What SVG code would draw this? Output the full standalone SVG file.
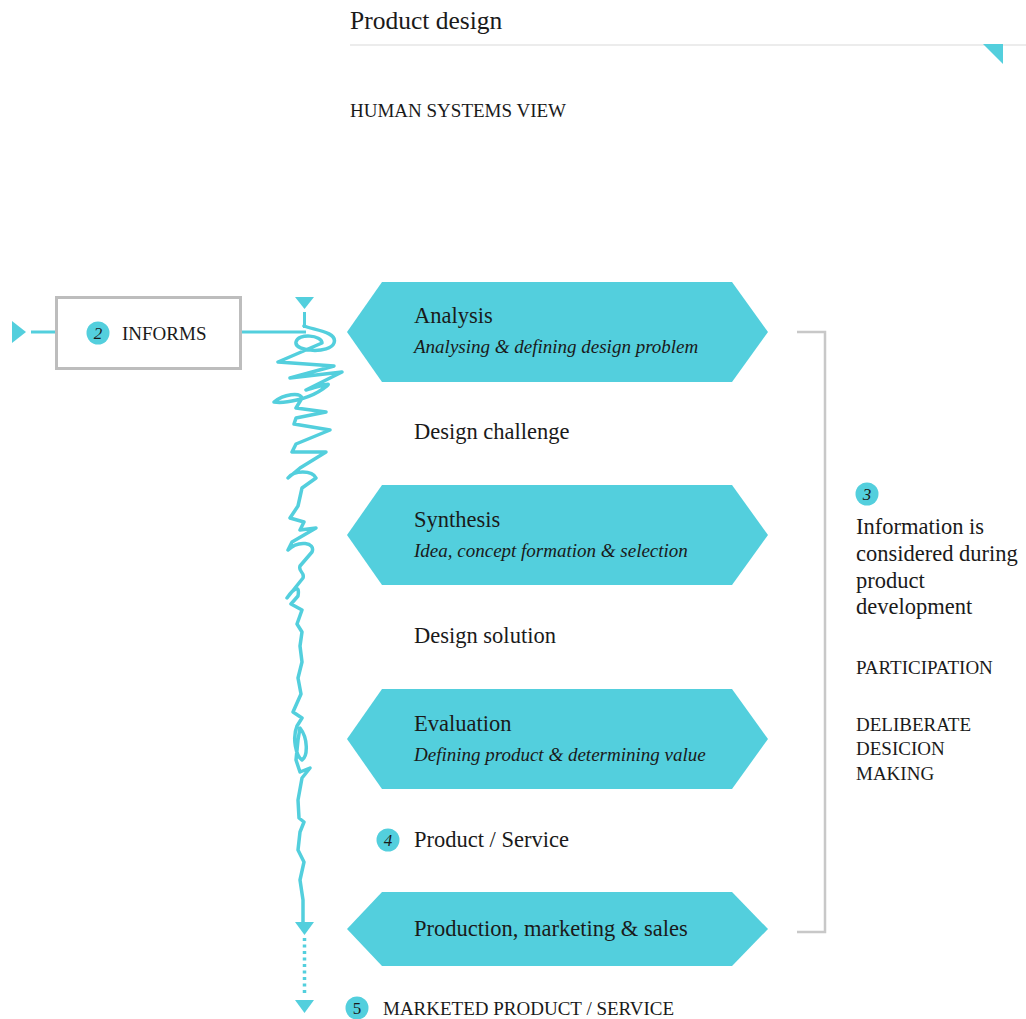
<svg xmlns="http://www.w3.org/2000/svg" width="1026" height="1019" viewBox="0 0 1026 1019">
<style>
.t{font-family:"Liberation Serif","DejaVu Serif",serif;fill:#1a1a1a}
.h{font-size:22.5px}
.i{font-size:19px;font-style:italic}
.c{font-size:19px}
.hex{fill:#53cfdd}
.num{fill:#53cfdd}
.nt{font-family:"Liberation Serif",serif;font-style:italic;font-size:17px;fill:#1a1a1a;text-anchor:middle}
.teal{stroke:#53cfdd;fill:none;stroke-width:3.5;stroke-linecap:round;stroke-linejoin:round}
.tri{fill:#53cfdd}
</style>
<rect width="1026" height="1019" fill="#fff"/>
<g id="header">
<text class="t" x="350" y="29" style="font-size:25.5px">Product design</text>
<line x1="350" y1="45" x2="1026" y2="45" stroke="#ececec" stroke-width="2"/>
<polygon class="tri" points="983,44 1003,44 1003,64"/>
<text class="t c" x="350" y="117">HUMAN SYSTEMS VIEW</text>
</g>
<g id="connectors">
<polygon class="tri" points="12,321 12,343 26,332"/>
<line x1="31" y1="332" x2="56" y2="332" stroke="#53cfdd" stroke-width="3"/>
<line x1="241" y1="332" x2="306" y2="332" stroke="#53cfdd" stroke-width="3"/>
<polygon class="tri" points="295,297 314,297 304.5,309"/>
<line x1="304.5" y1="312" x2="304.5" y2="328" stroke="#53cfdd" stroke-width="3"/>
<path class="teal" d="M304,326 C314,330 338,332 334,343 C330,354 294,352 296,342 C298,333 322,335 322,343 L278,362 L334,366 L290,378 L342,372 L306,390 C322,386 340,378 318,392 C308,398 286,404 274,402 C284,394 300,392 302,398 L296,408 L326,412 L296,418 L294,424 L330,430 L296,444 L292,452 L326,452 L300,468 L288,478 C294,470 312,470 316,478 L302,488 L298,506 L290,518 L304,522 L300,530 L316,528 L292,542 L288,550 C298,540 316,542 312,552 L300,566 C298,572 305,572 303,578 L287,598 C294,588 300,584 298,596 L291,604 L302,610 L297,624 L302,632 L300,646 L302,662 L298,678 L301,694 L293,712 L302,718 L297,726 C292,738 296,756 302,760 C308,756 308,738 300,728 L298,740 L296,760 L300,772 L310,768 L302,778 L298,800 L299,818 L304,822 L300,832 L298,850 L304,862 L300,880 L303,900 L303,922"/>
<polygon class="tri" points="295,922 314,922 304.5,935"/>
<line x1="304.5" y1="938" x2="304.5" y2="996" stroke="#53cfdd" stroke-width="3.5" stroke-dasharray="3,3.5"/>
<polygon class="tri" points="295,1000 314,1000 304.5,1013"/>
<polyline points="797,332 825,332 825,932 797,932" fill="none" stroke="#c8c8c8" stroke-width="2.5"/>
</g>
<g id="informs">
<rect x="56.5" y="297.5" width="184" height="71" fill="#fff" stroke="#bdbdbd" stroke-width="3"/>
<circle class="num" cx="98" cy="333" r="11.5"/>
<text class="nt" x="98" y="339">2</text>
<text class="t c" x="122" y="340">INFORMS</text>
</g>
<g id="analysis">
<polygon class="hex" points="347,332 382,282 732,282 768,332 732,382 382,382"/>
<text class="t h" x="414" y="323">Analysis</text>
<text class="t i" x="414" y="353">Analysing &amp; defining design problem</text>
</g>
<g id="design-challenge">
<text class="t h" x="414" y="439">Design challenge</text>
</g>
<g id="synthesis">
<polygon class="hex" points="347,535 382,485 732,485 768,535 732,585 382,585"/>
<text class="t h" x="414" y="527">Synthesis</text>
<text class="t i" x="414" y="557">Idea, concept formation &amp; selection</text>
</g>
<g id="design-solution">
<text class="t h" x="414" y="643">Design solution</text>
</g>
<g id="evaluation">
<polygon class="hex" points="347,739 382,689 732,689 768,739 732,789 382,789"/>
<text class="t h" x="414" y="731">Evaluation</text>
<text class="t i" x="414" y="761">Defining product &amp; determining value</text>
</g>
<g id="product-service">
<circle class="num" cx="388" cy="840" r="11.5"/>
<text class="nt" x="388" y="846">4</text>
<text class="t h" x="414" y="847">Product / Service</text>
</g>
<g id="production">
<polygon class="hex" points="347,929 382,892 732,892 768,929 732,966 382,966"/>
<text class="t h" x="414" y="936">Production, marketing &amp; sales</text>
</g>
<g id="marketed">
<circle class="num" cx="357" cy="1008" r="11.5"/>
<text class="nt" x="357" y="1014" style="font-style:normal">5</text>
<text class="t c" x="383" y="1015">MARKETED PRODUCT / SERVICE</text>
</g>
<g id="information">
<circle class="num" cx="867" cy="494" r="11.5"/>
<text class="nt" x="867" y="500">3</text>
<text class="t h" x="856" y="534">Information is</text>
<text class="t h" x="856" y="561">considered during</text>
<text class="t h" x="856" y="588">product</text>
<text class="t h" x="856" y="614">development</text>
<text class="t c" x="856" y="674">PARTICIPATION</text>
<text class="t c" x="856" y="731">DELIBERATE</text>
<text class="t c" x="856" y="755">DESICION</text>
<text class="t c" x="856" y="780">MAKING</text>
</g>
</svg>
